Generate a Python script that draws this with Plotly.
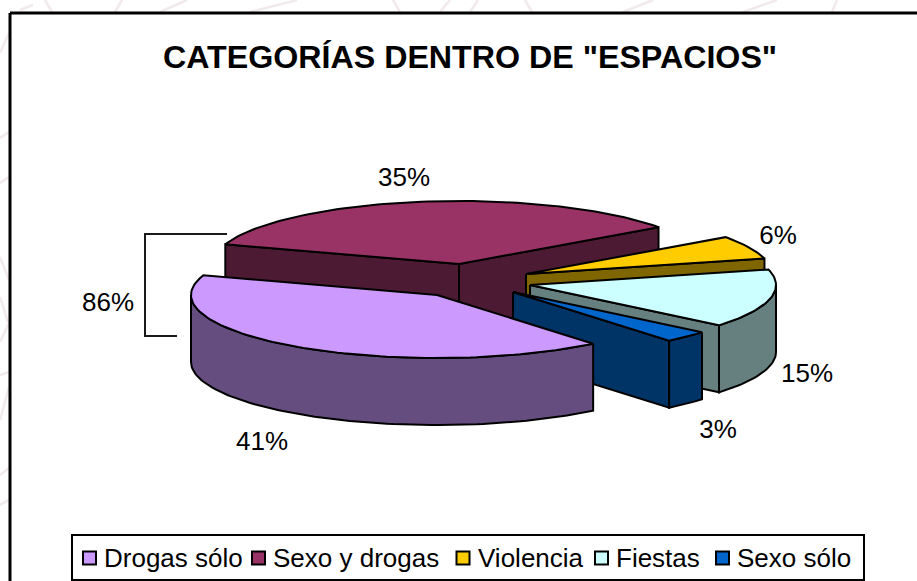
import math
import plotly.graph_objects as go

# --- data ---
categories = ["Drogas sólo", "Sexo y drogas", "Violencia", "Fiestas", "Sexo sólo"]
values = [41, 35, 6, 15, 3]
bracket_label = "86%"
title_text = 'CATEGORÍAS DENTRO DE "ESPACIOS"'

# --- styles ---
top_colors = ["#CC99FF", "#993366", "#FFCC00", "#CCFFFF", "#0066CC"]
side_colors = ["#664D80", "#4D1A33", "#806600", "#668080", "#003366"]
FONT = "Liberation Sans, Arial, sans-serif"
EDGE = 2

# --- layout of the 3D pie (pixel-like axes) ---
W, H = 917, 581
RX, RY, DEPTH = 246, 63, 67
START = 50.6
apex = [(437, 295), (459, 264), (526, 274), (530, 285), (513, 292)]
draw_order = [1, 2, 3, 4, 0]
label_pos = [(262, 443), (404, 179), (778, 237), (807, 375), (718, 431)]
bracket_label_pos = (108, 304)
swatch_x = [89.5, 258.5, 463, 601.5, 722.5]
LEG_Y = 558

faint_segments = [
    ((0, 53), (9, 33)), ((20, 10), (33, 5)), ((45, 0), (52, 12)), ((122, 0), (115, 12)),
    ((187, 0), (160, 12)), ((297, 0), (250, 12)), ((393, 0), (400, 12)), ((450, 0), (440, 12)),
    ((478, 0), (470, 12)), ((525, 0), (532, 12)), ((653, 0), (623, 12)), ((777, 0), (743, 12)),
    ((837, 0), (832, 12)), ((9, 132), (0, 138)), ((9, 177), (0, 183)), ((0, 257), (9, 280)),
    ((0, 297), (8, 322)), ((9, 323), (0, 342)), ((9, 372), (0, 375)), ((9, 387), (0, 420)),
    ((9, 468), (0, 475)), ((9, 500), (0, 505)),
]


def pt(c, deg, dz=0):
    r = math.radians(deg)
    return c[0] + RX * math.cos(r), c[1] + RY * math.sin(r) + dz


def arc(c, a, b, dz=0):
    n = max(2, int(abs(b - a) / 1.5))
    return [pt(c, a + (b - a) * i / n, dz) for i in range(n + 1)]


def poly(points, color):
    xs = [p[0] for p in points] + [points[0][0]]
    ys = [p[1] for p in points] + [points[0][1]]
    return go.Scatter(x=xs, y=ys, mode="lines", fill="toself", fillcolor=color,
                      line=dict(color="black", width=EDGE), hoverinfo="skip", showlegend=False)


# sweep of each slice from its value
total = sum(values)
sweeps = []
angle = START
for v in values:
    span = 360 * v / total
    sweeps.append((angle, angle + span))
    angle += span

fig = go.Figure()

for i in draw_order:
    t0, t1 = sweeps[i]
    c = apex[i]
    low = (c[0], c[1] + DEPTH)
    # cut faces that look toward the viewer
    if math.sin(math.radians(t0 - 90)) > 0:
        fig.add_trace(poly([c, pt(c, t0), pt(c, t0, DEPTH), low], side_colors[i]))
    if math.cos(math.radians(t1)) > 0:
        fig.add_trace(poly([c, pt(c, t1), pt(c, t1, DEPTH), low], side_colors[i]))
    # rim that faces the viewer
    for k in (-360, 0, 360):
        a, b = max(t0, k), min(t1, k + 180)
        if a < b:
            fig.add_trace(poly(arc(c, a, b) + arc(c, b, a, DEPTH), side_colors[i]))
    # top surface
    fig.add_trace(poly([c] + arc(c, t0, t1), top_colors[i]))

# bracket for the combined label
fig.add_trace(go.Scatter(x=[227, 145, 145, 177], y=[234, 234, 336, 336], mode="lines",
                         line=dict(color="#1a1a1a", width=2), hoverinfo="skip", showlegend=False))

# percentage labels
fig.add_trace(go.Scatter(
    x=[p[0] for p in label_pos] + [bracket_label_pos[0]],
    y=[p[1] for p in label_pos] + [bracket_label_pos[1]], mode="text",
    text=[f"{v}%" for v in values] + [bracket_label], textposition="middle center",
    textfont=dict(family=FONT, size=26, color="black"), hoverinfo="skip", showlegend=False))

# legend entries
fig.add_trace(go.Scatter(
    x=swatch_x, y=[LEG_Y] * len(swatch_x), mode="markers",
    marker=dict(symbol="square", size=13, color=top_colors, line=dict(color="black", width=2)),
    hoverinfo="skip", showlegend=False))
annotations = [
    dict(x=swatch_x[i] + 12.5, y=LEG_Y, text=categories[i], showarrow=False, xanchor="left",
         yanchor="middle", xref="x", yref="y", font=dict(family=FONT, size=26, color="black"))
    for i in range(len(categories))
]
annotations.append(dict(x=470, y=57, text=f"<b>{title_text}</b>", showarrow=False, xref="x", yref="y",
                        xanchor="center", yanchor="middle",
                        font=dict(family=FONT, size=32.2, color="black")))

shapes = [dict(type="line", x0=a[0], y0=a[1], x1=b[0], y1=b[1], xref="x", yref="y", layer="below",
               line=dict(color="#F1E9EC", width=2.5)) for a, b in faint_segments]
shapes += [
    dict(type="line", x0=10, y0=13, x1=W, y1=13, xref="x", yref="y", layer="below", line=dict(color="black", width=3)),
    dict(type="line", x0=10, y0=13, x1=10, y1=H, xref="x", yref="y", layer="below", line=dict(color="black", width=3)),
    dict(type="rect", x0=72, y0=535, x1=864, y1=580, xref="x", yref="y", layer="below",
         line=dict(color="black", width=2), fillcolor="white"),
]

fig.update_layout(
    width=W, height=H, margin=dict(l=0, r=0, t=0, b=0), paper_bgcolor="white", plot_bgcolor="white",
    showlegend=False, annotations=annotations, shapes=shapes,
    xaxis=dict(range=[0, W], visible=False, fixedrange=True),
    yaxis=dict(range=[H, 0], visible=False, fixedrange=True),
)
fig.write_html("out.html", config=dict(displayModeBar=False),
               post_script="document.body.style.margin='0';document.body.style.overflow='hidden';")
